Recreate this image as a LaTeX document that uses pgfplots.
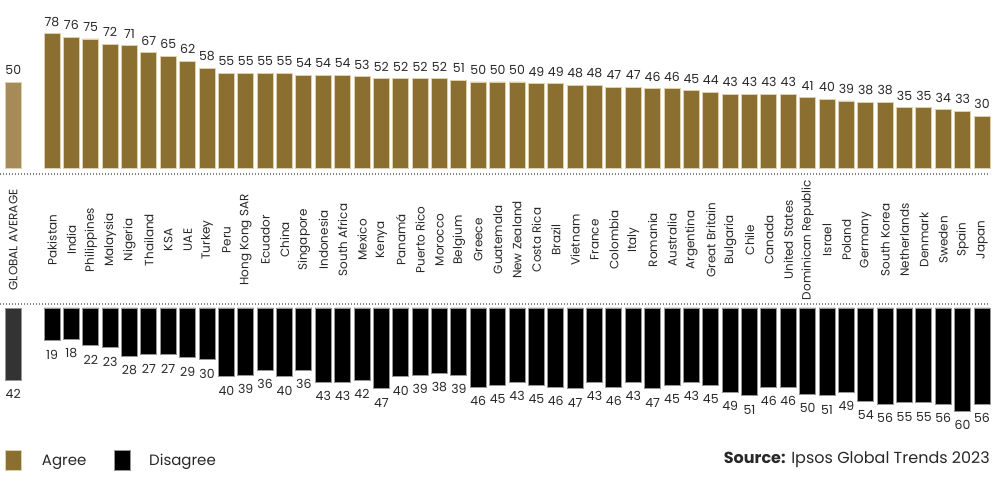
\documentclass[border=0pt]{standalone}
\usepackage{pgfplots}
\pgfplotsset{compat=1.18}
\usepackage{pgfplotstable}
\usepackage{fontspec}
\setmainfont{Poppins}
\definecolor{gold}{RGB}{139,111,48}
\definecolor{goldlight}{RGB}{166,138,88}
\definecolor{goldedge}{RGB}{222,208,172}
\definecolor{blkedge}{RGB}{150,150,150}
\definecolor{darkg}{RGB}{51,51,51}
\definecolor{txt}{RGB}{40,40,40}

\pgfplotstableread{
x agree disagree
0 78 19
1 76 18
2 75 22
3 72 23
4 71 28
5 67 27
6 65 27
7 62 29
8 58 30
9 55 40
10 55 39
11 55 36
12 55 40
13 54 36
14 54 43
15 54 43
16 53 42
17 52 47
18 52 40
19 52 39
20 52 38
21 51 39
22 50 46
23 50 45
24 50 43
25 49 45
26 49 46
27 48 47
28 48 43
29 47 46
30 47 43
31 46 47
32 46 45
33 45 43
34 44 45
35 43 49
36 43 51
37 43 46
38 43 46
39 41 50
40 40 51
41 39 49
42 38 54
43 38 56
44 35 55
45 35 55
46 34 56
47 33 60
48 30 56
}\data

\pgfplotstableread{
x agree disagree
-2 50 42
}\glob

\begin{document}
\begin{tikzpicture}
% top axis: agree
\begin{axis}[
  at={(0pt,321pt)}, anchor=south west,
  scale only axis, width=995pt, height=168pt,
  xmin=-2.684, xmax=48.671, ymin=0, ymax=97.67,
  clip=false,
  axis line style={draw=none},
  ytick=\empty,
  xtick={-2,0,1,...,48},
  major tick length=0pt,
  xticklabels={GLOBAL AVERAGE,Pakistan,India,Philippines,Malaysia,Nigeria,Thailand,KSA,UAE,Turkey,Peru,Hong Kong SAR,Ecuador,China,Singapore,Indonesia,South Africa,Mexico,Kenya,Panamá,Puerto Rico,Morocco,Belgium,Greece,Guatemala,New Zealand,Costa Rica,Brazil,Vietnam,France,Colombia,Italy,Romania,Australia,Argentina,Great Britain,Bulgaria,Chile,Canada,United States,Dominican Republic,Israel,Poland,Germany,South Korea,Netherlands,Denmark,Sweden,Spain,Japan},
  xticklabel style={yshift=-72pt, rotate=90, anchor=center, font=\fontsize{12}{14}\selectfont, text=txt, inner sep=0pt},
  ybar, bar width=16pt, bar shift=0pt,
  nodes near coords,
  /pgf/number format/assume math mode=true,
  every node near coord/.append style={font=\fontsize{12.5}{14}\selectfont, text=txt, inner sep=0pt, yshift=7pt},
]
\addplot[fill=goldlight, draw=goldedge, line width=0.8pt, bar shift=0pt] table[x=x, y=agree] {\glob};
\addplot[fill=gold, draw=goldedge, line width=0.8pt, bar shift=0pt] table[x=x, y=agree] {\data};
\end{axis}

% bottom axis: disagree
\begin{axis}[
  at={(0pt,0pt)}, anchor=south west,
  scale only axis, width=995pt, height=181pt,
  xmin=-2.684, xmax=48.671, ymin=-105.2, ymax=0,
  clip=false,
  axis line style={draw=none},
  ytick=\empty, xtick=\empty,
  ybar, bar width=16pt, bar shift=0pt,
  nodes near coords,
  point meta=explicit,
  /pgf/number format/assume math mode=true,
  every node near coord/.append style={font=\fontsize{12.5}{14}\selectfont, text=txt, inner sep=0pt, yshift=-19pt},
  legend image code/.code={\draw[#1, line width=0.8pt] (0pt,-10pt) rectangle (16pt,10pt);},
  legend style={draw=none, fill=none, legend columns=2, at={(0.005,0.16)}, anchor=west,
    font=\fontsize{15}{18}\selectfont, text=txt, inner sep=0pt,
    /tikz/every even column/.append style={column sep=28pt},
    nodes={inner sep=0pt, text depth=0pt}},
  legend cell align=left,
]
\addplot[fill=darkg, draw=blkedge, line width=0.8pt, forget plot, bar shift=0pt] table[x=x, y expr=-\thisrow{disagree}, meta=disagree] {\glob};
\addlegendimage{fill=gold, draw=goldedge}
\addlegendentry{\hspace{20pt}Agree}
\addplot[fill=black, draw=blkedge, line width=0.8pt, bar shift=0pt] table[x=x, y expr=-\thisrow{disagree}, meta=disagree] {\data};
\addlegendentry{\hspace{18pt}Disagree}
\node[anchor=east, font=\fontsize{16}{19}\selectfont, text=txt, inner sep=0pt] at (rel axis cs:0.995,0.16) {\textbf{Source:} Ipsos Global Trends 2023};
\end{axis}

\draw[gray, line width=1.2pt, dash pattern=on 1pt off 2pt] (0pt,315pt) -- (990pt,315pt);
\draw[gray, line width=1.2pt, dash pattern=on 1pt off 2pt] (0pt,185pt) -- (990pt,185pt);

\pgfresetboundingbox
\path[use as bounding box] (0pt,0pt) rectangle (995pt,489pt);
\end{tikzpicture}
\end{document}
